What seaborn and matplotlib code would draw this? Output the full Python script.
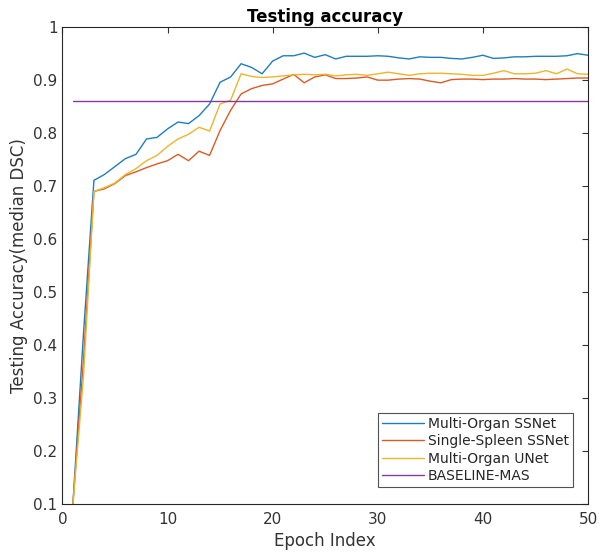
import numpy as np
import pandas as pd
import matplotlib
matplotlib.use("Agg")
import matplotlib.pyplot as plt
import seaborn as sns

# Epoch index
epochs = list(range(1, 51))

# Median DSC per epoch
multi_ssnet = [0.100, 0.420, 0.711, 0.722, 0.737, 0.752, 0.760, 0.789, 0.792, 0.808,
               0.821, 0.818, 0.833, 0.855, 0.896, 0.906, 0.931, 0.924, 0.912, 0.936,
               0.946, 0.946, 0.951, 0.943, 0.948, 0.940, 0.945, 0.945, 0.945, 0.946,
               0.945, 0.942, 0.940, 0.944, 0.943, 0.943, 0.941, 0.940, 0.943, 0.947,
               0.941, 0.942, 0.944, 0.944, 0.945, 0.945, 0.945, 0.946, 0.950, 0.947]
spleen_ssnet = [0.100, 0.370, 0.690, 0.695, 0.705, 0.720, 0.727, 0.735, 0.742, 0.748,
                0.760, 0.748, 0.766, 0.758, 0.805, 0.843, 0.874, 0.884, 0.890, 0.893,
                0.902, 0.911, 0.895, 0.906, 0.910, 0.903, 0.903, 0.904, 0.906, 0.900,
                0.900, 0.902, 0.903, 0.902, 0.898, 0.895, 0.901, 0.902, 0.902, 0.901,
                0.902, 0.902, 0.903, 0.902, 0.902, 0.901, 0.902, 0.903, 0.904, 0.904]
multi_unet = [0.100, 0.340, 0.690, 0.697, 0.706, 0.722, 0.733, 0.748, 0.758, 0.775,
              0.789, 0.798, 0.811, 0.804, 0.855, 0.862, 0.912, 0.907, 0.905, 0.906,
              0.908, 0.910, 0.911, 0.910, 0.911, 0.908, 0.910, 0.911, 0.909, 0.912,
              0.915, 0.912, 0.909, 0.912, 0.913, 0.913, 0.912, 0.911, 0.909, 0.909,
              0.913, 0.918, 0.912, 0.912, 0.913, 0.918, 0.912, 0.921, 0.912, 0.911]
baseline_mas = [0.86] * 50

series_names = ["Multi-Organ SSNet", "Single-Spleen SSNet", "Multi-Organ UNet", "BASELINE-MAS"]
colors = ["#1f7dbd", "#d95b25", "#edb52a", "#86399a"]

# Long format for seaborn
df = pd.concat([
    pd.DataFrame({"epoch": epochs, "acc": vals, "model": name})
    for name, vals in zip(series_names, [multi_ssnet, spleen_ssnet, multi_unet, baseline_mas])
])

sns.set_theme(style="white")
plt.rcParams["font.family"] = ["DejaVu Sans"]

fig = plt.figure(figsize=(6, 5.54), dpi=100)
ax = fig.add_axes([0.104, 0.09, 0.876, 0.861])

sns.lineplot(data=df, x="epoch", y="acc", hue="model", hue_order=series_names,
             palette=colors, linewidth=1.0, ax=ax)

ax.set_xlim(0, 50)
ax.set_ylim(0.1, 1.0)
ax.set_xticks([0, 10, 20, 30, 40, 50])
ax.set_yticks(np.round(np.arange(0.1, 1.01, 0.1), 1))
ax.set_yticklabels(["0.1", "0.2", "0.3", "0.4", "0.5", "0.6", "0.7", "0.8", "0.9", "1"])

ax.tick_params(direction="in", top=True, right=True, length=4, width=0.8,
               labelsize=11, colors="#333333")
ax.tick_params(axis="x", pad=6)
for s in ax.spines.values():
    s.set_visible(True)
    s.set_color("#262626")
    s.set_linewidth(0.8)

ax.set_xlabel("Epoch Index", fontsize=12, color="#333333", labelpad=3)
ax.set_ylabel("Testing Accuracy(median DSC)", fontsize=12, color="#333333")
ax.set_title("Testing accuracy", fontsize=12, fontweight="bold", color="black", pad=4)

leg = ax.legend(loc="lower right", fontsize=10, frameon=True, fancybox=False,
                bbox_to_anchor=(0.972, 0.035), borderaxespad=0.0,
                handlelength=3.0, handletextpad=0.3,
                labelspacing=0.25, borderpad=0.3)
leg.get_frame().set_edgecolor("#262626")
leg.get_frame().set_linewidth(0.8)

fig.savefig("out.png", dpi=100)
